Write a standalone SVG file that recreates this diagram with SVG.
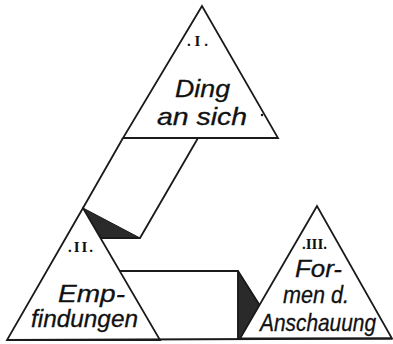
<svg xmlns="http://www.w3.org/2000/svg" width="393" height="344" viewBox="0 0 393 344">
<style>
.ln{fill:none;stroke:#1a1a1a;stroke-width:1.8;stroke-linejoin:miter}
.dk{fill:#2a2a2a;stroke:#1a1a1a;stroke-width:1}
.t{font-family:"Liberation Sans","DejaVu Sans",sans-serif;font-style:italic;font-size:24px;fill:#111;stroke:#111;stroke-width:0.3}
.r{font-family:"Liberation Serif","DejaVu Serif",serif;font-weight:bold;font-size:15px;fill:#111}
</style>
<rect width="393" height="344" fill="#fff"/>
<g id="connectors">
<path class="dk" d="M83,208 L140,238 L101,238 Z"/>
<path class="ln" d="M123,138 L83,208 M198,138 L140,238 L101,238"/>
<path class="dk" d="M238,271 L259.5,305 L240,338.5 L238,338.5 Z"/>
<path class="ln" d="M120,271 L238,271 L238,339 M238,271 L259.5,305"/>
<path class="ln" d="M7,340 L392,338.5"/>
</g>
<g id="node-I">
<path class="ln" d="M202,6 L123,138 L278,138 Z"/>
<text class="r" x="187" y="46" textLength="21" lengthAdjust="spacing">.I.</text>
<text class="t" x="175" y="97" textLength="55" lengthAdjust="spacingAndGlyphs">Ding</text>
<text class="t" x="157" y="125" textLength="90" lengthAdjust="spacingAndGlyphs">an sich</text>
<circle cx="262" cy="115" r="1.2" fill="#111"/>
</g>
<g id="node-II">
<path class="ln" d="M83,208 L7,340 L160,340 Z"/>
<text class="r" x="68" y="252" textLength="25" lengthAdjust="spacing">.II.</text>
<text class="t" x="58" y="302" textLength="67" lengthAdjust="spacingAndGlyphs">Emp-</text>
<text class="t" x="31" y="327" textLength="107" lengthAdjust="spacingAndGlyphs">findungen</text>
</g>
<g id="node-III">
<path class="ln" d="M317,206 L240,338.5 L392,338.5 Z"/>
<text class="r" x="302" y="249" textLength="25" lengthAdjust="spacing">.III.</text>
<text class="t" x="295" y="277" textLength="47" lengthAdjust="spacingAndGlyphs">For-</text>
<text class="t" x="283" y="303" textLength="66" lengthAdjust="spacingAndGlyphs">men d.</text>
<text class="t" x="260" y="331" textLength="116" lengthAdjust="spacingAndGlyphs">Anschauung</text>
</g>
</svg>
